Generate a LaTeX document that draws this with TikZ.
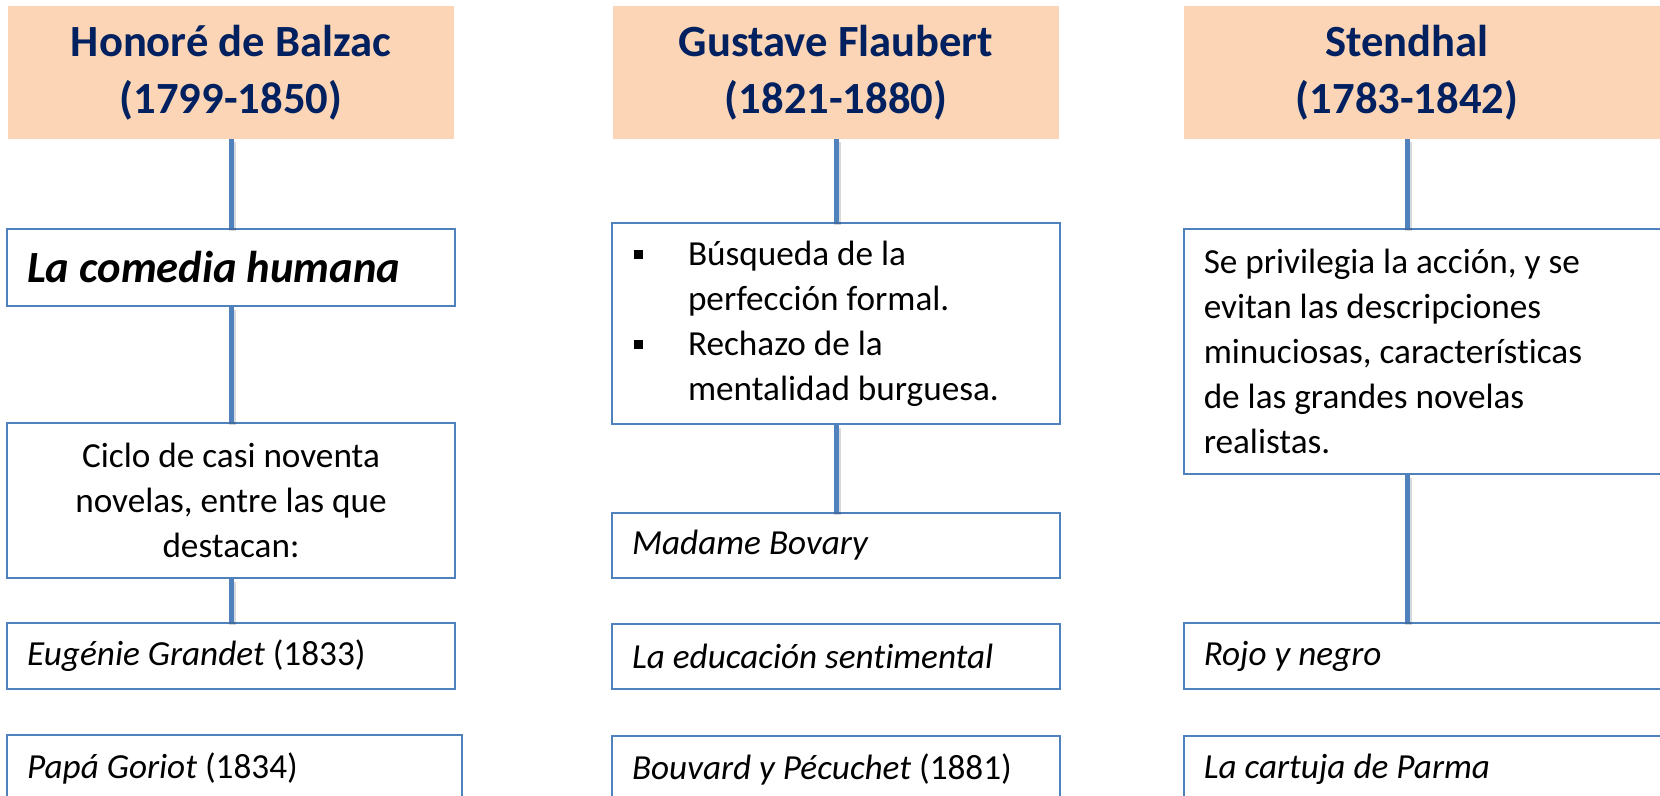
\documentclass[tikz,border=0pt]{standalone}
\usepackage{fontspec}
\setmainfont{Carlito}[Ligatures=NoCommon]
\definecolor{peach}{HTML}{FBD5B5}
\definecolor{navy}{HTML}{002060}
\definecolor{linkblue}{HTML}{4F81BD}
\newcommand{\sqbullet}{\makebox[27pt][l]{\rule[3pt]{4.7pt}{4.7pt}}}

\tikzset{
  headbox/.style={shape=rectangle, fill=peach, text=navy, inner sep=0pt,
    text width=223pt, minimum height=66.5pt, align=flush center,
    font=\bfseries\fontsize{22.3}{28.5}\selectfont},
  textbox/.style={shape=rectangle, draw=linkblue, line width=0.75pt, fill=white,
    inner xsep=10pt, inner ysep=0pt, text width=204pt, align=flush left,
    font=\fontsize{17.6}{22.5}\selectfont},
  link/.style={draw=linkblue, line width=2.5pt,
    preaction={draw=black, opacity=0.15, line width=3.5pt,
      transform canvas={xshift=0.5pt, yshift=-1.5pt}}}
}

\begin{document}
\begin{tikzpicture}[x=0.5pt, y=-0.5pt]
\useasboundingbox (0,0) rectangle (1660,796);
\clip (0,0) rectangle (1660,796);

% Balzac
\node [headbox] (balzac) at (231,72.5) {Honoré de Balzac\\(1799-1850)};
\node [textbox, below of=balzac, node distance=97.5pt, minimum height=38.5pt,
  font=\bfseries\itshape\fontsize{22.3}{28}\selectfont] (comedia) {La comedia humana};
\node [textbox, below of=comedia, node distance=116.5pt, minimum height=77.5pt,
  align=flush center] (ciclo) {Ciclo de casi noventa\\novelas, entre las que\\destacan:};
\node [textbox, below of=ciclo, node distance=77.75pt, minimum height=33pt] (eugenie)
  {\textit{Eugénie Grandet} (1833)};
\node [textbox, below of=eugenie, node distance=56pt, minimum height=33pt,
  text width=207.5pt, xshift=1.75pt] (goriot) {\textit{Papá Goriot} (1834)};

% Flaubert
\node [headbox] (flaubert) at (836,72.5) {Gustave Flaubert\\(1821-1880)};
\node [textbox, below of=flaubert, node distance=125.5pt, minimum height=100.5pt,
  inner xsep=11pt, text width=202pt] (rasgos)
  {\sqbullet Búsqueda de la\\\hspace*{27pt}perfección formal.\\
   \sqbullet Rechazo de la\\\hspace*{27pt}mentalidad burguesa.};
\node [textbox, below of=rasgos, node distance=111pt, minimum height=32.5pt] (bovary)
  {\textit{Madame Bovary}};
\node [textbox, below of=bovary, node distance=55.5pt, minimum height=32.5pt] (educacion)
  {\textit{La educación sentimental}};
\node [textbox, below of=educacion, node distance=56.25pt, minimum height=33pt] (bouvard)
  {\textit{Bouvard y Pécuchet} (1881)};

% Stendhal
\node [headbox] (stendhal) at (1407,72.5) {Stendhal\\(1783-1842)};
\fill [peach] (stendhal.north east) rectangle (1680,139);
\node [textbox, anchor=west, text width=228.5pt, minimum height=122.5pt] (accion) at (1183,351.5)
  {Se privilegia la acción, y se\\evitan las descripciones\\minuciosas, características\\de las grandes novelas\\realistas.};
\node [textbox, anchor=west, text width=228.5pt, minimum height=33pt] (rojo) at (1183,656)
  {\textit{Rojo y negro}};
\node [textbox, anchor=west, text width=228.5pt, minimum height=33pt] (parma) at (1183,769)
  {\textit{La cartuja de Parma}};

\draw [link] (balzac) -- (comedia);
\draw [link] (comedia) -- (ciclo);
\draw [link] (ciclo) -- (eugenie);
\draw [link] (flaubert) -- (rasgos);
\draw [link] (rasgos) -- (bovary);
\draw [link] (stendhal) -- (stendhal |- accion.north);
\draw [link] (stendhal |- accion.south) -- (stendhal |- rojo.north);
\end{tikzpicture}
\end{document}
